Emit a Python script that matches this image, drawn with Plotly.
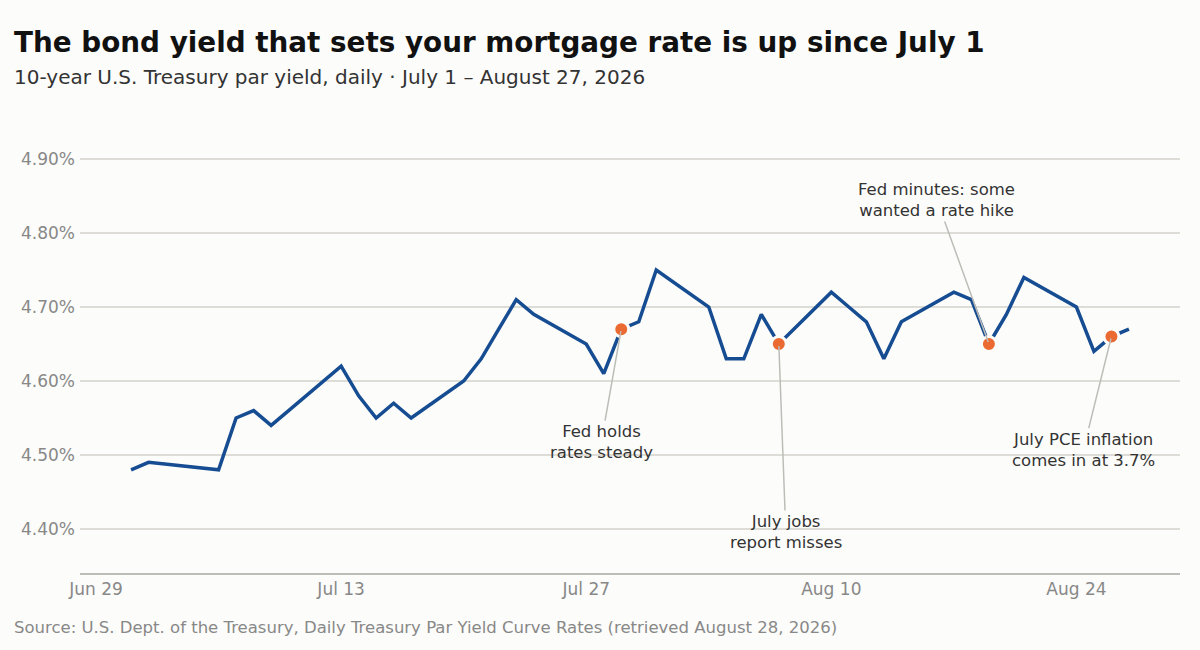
import plotly.graph_objects as go

# ── data ──────────────────────────────────────────────────────────────────────
dates = [
    "2026-07-01", "2026-07-02", "2026-07-06", "2026-07-07", "2026-07-08",
    "2026-07-09", "2026-07-10", "2026-07-13", "2026-07-14", "2026-07-15",
    "2026-07-16", "2026-07-17", "2026-07-20", "2026-07-21", "2026-07-22",
    "2026-07-23", "2026-07-24", "2026-07-27", "2026-07-28", "2026-07-29",
    "2026-07-30", "2026-07-31", "2026-08-03", "2026-08-04", "2026-08-05",
    "2026-08-06", "2026-08-07", "2026-08-10", "2026-08-11", "2026-08-12",
    "2026-08-13", "2026-08-14", "2026-08-17", "2026-08-18", "2026-08-19",
    "2026-08-20", "2026-08-21", "2026-08-24", "2026-08-25", "2026-08-26",
    "2026-08-27",
]
yields = [
    4.48, 4.49, 4.48, 4.55, 4.56,
    4.54, 4.56, 4.62, 4.58, 4.55,
    4.57, 4.55, 4.60, 4.63, 4.67,
    4.71, 4.69, 4.65, 4.61, 4.67,
    4.68, 4.75, 4.70, 4.63, 4.63,
    4.69, 4.65, 4.72, 4.70, 4.68,
    4.63, 4.68, 4.72, 4.71, 4.65,
    4.69, 4.74, 4.70, 4.64, 4.66,
    4.67,
]

event_dates = ["2026-07-29", "2026-08-07", "2026-08-19", "2026-08-26"]
event_labels = [
    "Fed holds<br>rates steady",
    "July jobs<br>report misses",
    "Fed minutes: some<br>wanted a rate hike",
    "July PCE inflation<br>comes in at 3.7%",
]
# label offsets from the marker, in pixels
event_ax = [-20, 7, -52, -28]
event_ay = [113, 188, -144, 113]

yield_ticks = [4.40, 4.50, 4.60, 4.70, 4.80, 4.90]

BG = "#fcfcfa"
LINE = "#164c91"
DOT = "#ea6a32"
FONT = "DejaVu Sans, sans-serif"

event_values = [yields[dates.index(d)] for d in event_dates]

fig = go.Figure()
fig.add_trace(go.Scatter(
    x=dates, y=yields, mode="lines",
    line=dict(color=LINE, width=3.5),
    hovertemplate="%{x|%b %d}: %{y:.2f}%<extra></extra>",
))
fig.add_trace(go.Scatter(
    x=event_dates, y=event_values, mode="markers",
    marker=dict(color=DOT, size=15, line=dict(color=BG, width=3)),
    hoverinfo="skip",
))

for d, v, label, ax, ay in zip(event_dates, event_values, event_labels, event_ax, event_ay):
    fig.add_annotation(
        x=d, y=v, text=label, showarrow=True,
        ax=ax, ay=ay, arrowhead=0, arrowwidth=1.5, arrowcolor="#bdbdb8",
        standoff=2, font=dict(size=16.5, color="#333"), align="center",
    )

fig.add_annotation(
    text="10-year U.S. Treasury par yield, daily · July 1 – August 27, 2026",
    xref="paper", yref="paper", x=-68 / 1100, y=(573 - 77) / 451,
    xanchor="left", yanchor="middle", showarrow=False,
    font=dict(size=20, color="#333"),
)
fig.add_annotation(
    text="Source: U.S. Dept. of the Treasury, Daily Treasury Par Yield Curve Rates (retrieved August 28, 2026)",
    xref="paper", yref="paper", x=-68 / 1100, y=(573 - 627) / 451,
    xanchor="left", yanchor="middle", showarrow=False,
    font=dict(size=16.5, color="#888"),
)

fig.update_layout(
    width=1200, height=650,
    paper_bgcolor=BG, plot_bgcolor=BG,
    margin=dict(l=80, r=20, t=122, b=77),
    font=dict(family=FONT, color="#333"),
    showlegend=False,
    title=dict(
        text="<b>The bond yield that sets your mortgage rate is up since July 1</b>",
        x=14 / 1200, xanchor="left", y=1 - 42 / 650, yanchor="middle",
        xref="container", yref="container",
        font=dict(size=27.8, color="#111", family=FONT),
    ),
    xaxis=dict(
        type="date",
        range=["2026-06-28 02:00", "2026-08-29 22:00"],
        tick0="2026-06-29", dtick=14 * 86400000, tickformat="%b %d",
        showgrid=False, zeroline=False,
        showline=True, linecolor="#bdbdb8", linewidth=1.5,
        ticks="", tickfont=dict(size=17, color="#888"),
    ),
    yaxis=dict(
        range=[4.3405, 4.95],
        tickvals=yield_ticks,
        ticktext=[f"{t:.2f}%" for t in yield_ticks],
        showgrid=True, gridcolor="#dddcd6", gridwidth=1.5,
        zeroline=False, showline=False, ticks="",
        ticklabelstandoff=4,
        tickfont=dict(size=17, color="#888"),
    ),
)

# drop the browser's default body margin so the chart sits flush in the window
fig.write_html(
    "out.html",
    config={"displayModeBar": False},
    post_script=f"document.body.style.margin='0';document.body.style.background='{BG}';",
)
